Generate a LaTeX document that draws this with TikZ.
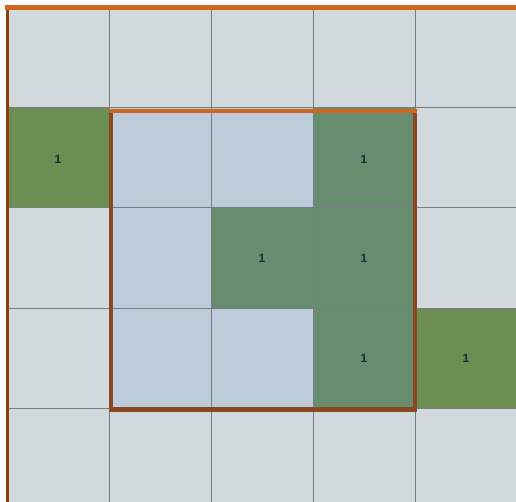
\documentclass[tikz,border=0pt]{standalone}
\usepackage{fontspec}
\setmainfont{Liberation Sans}
\definecolor{cellgrey}{HTML}{D2D9DD}
\definecolor{cellblue}{HTML}{BDCCDA}
\definecolor{greenin}{HTML}{688C6E}
\definecolor{greenout}{HTML}{6D8E52}
\definecolor{gridline}{HTML}{767C82}
\definecolor{boxorange}{HTML}{D0661C}
\definecolor{boxbrown}{HTML}{8A4820}
\definecolor{edgebrown}{HTML}{8E3F0C}
\definecolor{numcol}{HTML}{1E2A3A}
\begin{document}
\begin{tikzpicture}[x=1pt,y=-1pt,
  num/.style={font=\fontsize{12}{14}\selectfont\bfseries, text=numcol},
  gridpen/.style={draw=gridline, line width=1pt}]
\useasboundingbox (0,0) rectangle (516,502);
% background cells
\fill[cellgrey] (8,9) rectangle (516,502);
% light blue cells inside box
\fill[cellblue] (109,108) rectangle (313,208);
\fill[cellblue] (109,208) rectangle (211,408);
\fill[cellblue] (211,308) rectangle (313,408);
% green cells
\fill[greenout] (8,108) rectangle (109,208);
\fill[greenin] (313,108) rectangle (415,408);
\fill[greenin] (211,208) rectangle (313,308);
\fill[greenout] (415,308) rectangle (516,408);
% grid lines
\foreach \x in {109,211,313,415} \draw[gridpen] (\x,9) -- (\x,502);
\foreach \y in {108,208,308,408} \draw[gridpen] (8,\y) -- (516,\y);
% outer top and left edges
\draw[boxorange, line width=5pt] (5,7.5) -- (516,7.5);
\draw[edgebrown, line width=3.5pt] (7.5,10) -- (7.5,502);
% box
\draw[boxbrown, line width=4.5pt] (111,111) -- (111,409.5) -- (415,409.5) -- (415,111);
\draw[boxorange, line width=4.5pt] (109,111) -- (417,111);
% labels
\node[num] (a) at (58,159) {1};
\node[num] (b) at (364,159) {1};
\node[num] (c) at (262,258) {1};
\node[num] (d) at (364,258) {1};
\node[num] (e) at (364,358) {1};
\node[num] (f) at (466,358) {1};
\end{tikzpicture}
\end{document}
